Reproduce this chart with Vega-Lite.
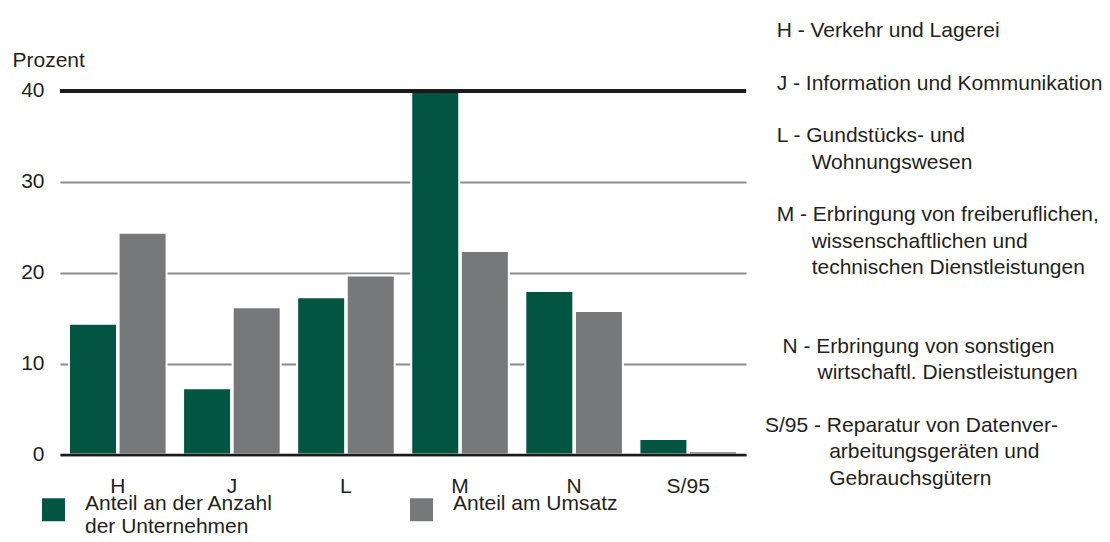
{
  "$schema": "https://vega.github.io/schema/vega-lite/v6.json",
  "padding": {"left": 12, "top": 20, "right": 0, "bottom": 0},
  "spacing": 17,
  "config": {
    "view": {"stroke": null},
    "font": "Liberation Sans",
    "text": {"font": "Liberation Sans"}
  },
  "hconcat": [
    {
      "width": 686,
      "height": 434.5,
      "data": {
        "values": [
          {"code": "H", "serie": "Anteil an der Anzahl der Unternehmen", "wert": 14.4},
          {"code": "H", "serie": "Anteil am Umsatz", "wert": 24.4},
          {"code": "J", "serie": "Anteil an der Anzahl der Unternehmen", "wert": 7.3},
          {"code": "J", "serie": "Anteil am Umsatz", "wert": 16.2},
          {"code": "L", "serie": "Anteil an der Anzahl der Unternehmen", "wert": 17.3},
          {"code": "L", "serie": "Anteil am Umsatz", "wert": 19.7},
          {"code": "M", "serie": "Anteil an der Anzahl der Unternehmen", "wert": 40.0},
          {"code": "M", "serie": "Anteil am Umsatz", "wert": 22.4},
          {"code": "N", "serie": "Anteil an der Anzahl der Unternehmen", "wert": 18.0},
          {"code": "N", "serie": "Anteil am Umsatz", "wert": 15.8},
          {"code": "S/95", "serie": "Anteil an der Anzahl der Unternehmen", "wert": 1.7},
          {"code": "S/95", "serie": "Anteil am Umsatz", "wert": 0.35}
        ]
      },
      "layer": [
        {
          "mark": {"type": "bar", "stroke": "white", "strokeWidth": 2},
          "encoding": {
            "x": {
              "field": "code",
              "type": "nominal",
              "sort": ["H", "J", "L", "M", "N", "S/95"],
              "scale": {"paddingInner": 0.1445, "paddingOuter": 0.0789},
              "axis": {
                "title": null,
                "labelAngle": 0,
                "labelFontSize": 21,
                "labelColor": "#231f20",
                "labelFont": "Liberation Sans",
                "labelPadding": 21,
                "ticks": false,
                "tickSize": 0,
                "domainColor": "#1a1a1a",
                "domainWidth": 2.5,
                "zindex": 1
              }
            },
            "xOffset": {
              "field": "serie",
              "type": "nominal",
              "sort": ["Anteil an der Anzahl der Unternehmen", "Anteil am Umsatz"],
              "scale": {"paddingInner": 0.032, "paddingOuter": 0}
            },
            "y": {
              "field": "wert",
              "type": "quantitative",
              "scale": {"domain": [0, 47.81], "nice": false, "zero": true},
              "axis": {
                "title": "Prozent",
                "titleAngle": 0,
                "titleAlign": "left",
                "titleBaseline": "alphabetic",
                "titleX": -48,
                "titleY": 46.7,
                "titleFontSize": 21,
                "titleFontWeight": "normal",
                "titleColor": "#231f20",
                "titleFont": "Liberation Sans",
                "values": [0, 10, 20, 30, 40],
                "labelFontSize": 21,
                "labelColor": "#231f20",
                "labelFont": "Liberation Sans",
                "labelPadding": 16,
                "ticks": false,
                "tickSize": 0,
                "domain": false,
                "grid": true,
                "gridColor": "#8c8c8c",
                "gridWidth": 1.8
              }
            },
            "color": {
              "field": "serie",
              "type": "nominal",
              "sort": ["Anteil an der Anzahl der Unternehmen", "Anteil am Umsatz"],
              "scale": {"range": ["#025540", "#777879"]},
              "legend": {
                "title": null,
                "orient": "none",
                "legendX": -18,
                "legendY": 478,
                "direction": "horizontal",
                "columns": 2,
                "columnPadding": 137,
                "padding": 0,
                "symbolType": "square",
                "symbolSize": 529,
                "symbolStrokeWidth": 0,
                "symbolOpacity": 1,
                "labelFontSize": 21,
                "labelFont": "Liberation Sans",
                "labelColor": "#231f20",
                "labelOffset": 20,
                "labelLimit": 400,
                "labelBaseline": "alphabetic",
                "labelExpr": "datum.label == 'Anteil an der Anzahl der Unternehmen' ? ['Anteil an der Anzahl', 'der Unternehmen'] : [datum.label, '\u200b']"
              }
            }
          }
        },
        {
          "mark": {"type": "rule", "color": "#1a1a1a", "strokeWidth": 2.5},
          "encoding": {"y": {"datum": 40}}
        }
      ]
    },
    {
      "width": 347,
      "height": 434.5,
      "data": {
        "values": [
          {"beschreibung": "\u200b\u00a0\u00a0H - Verkehr und Lagerei\n\u200b\n\u200b\u00a0\u00a0J - Information und Kommunikation\n\u200b\n\u200b\u00a0\u00a0L - Gundstücks- und\n\u200b\u00a0\u00a0\u00a0\u00a0\u00a0\u00a0\u00a0\u00a0Wohnungswesen\n\u200b\n\u200b\u00a0\u00a0M - Erbringung von freiberuflichen,\n\u200b\u00a0\u00a0\u00a0\u00a0\u00a0\u00a0\u00a0\u00a0wissenschaftlichen und\n\u200b\u00a0\u00a0\u00a0\u00a0\u00a0\u00a0\u00a0\u00a0technischen Dienstleistungen\n\u200b\n\u200b\n\u200b\u00a0\u00a0\u00a0N - Erbringung von sonstigen\n\u200b\u00a0\u00a0\u00a0\u00a0\u00a0\u00a0\u00a0\u00a0\u00a0wirtschaftl. Dienstleistungen\n\u200b\nS/95 - Reparatur von Datenver-\n\u200b\u00a0\u00a0\u00a0\u00a0\u00a0\u00a0\u00a0\u00a0\u00a0\u00a0\u00a0arbeitungsgeräten und\n\u200b\u00a0\u00a0\u00a0\u00a0\u00a0\u00a0\u00a0\u00a0\u00a0\u00a0\u00a0Gebrauchsgütern"}
        ]
      },
      "mark": {
        "type": "text",
        "align": "left",
        "baseline": "top",
        "fontSize": 21,
        "font": "Liberation Sans",
        "color": "#231f20",
        "lineHeight": 26.33,
        "lineBreak": "\n"
      },
      "encoding": {
        "text": {"field": "beschreibung", "type": "nominal"},
        "x": {"datum": 0, "type": "quantitative", "scale": {"domain": [0, 1]}, "axis": null},
        "y": {"datum": 1, "type": "quantitative", "scale": {"domain": [0, 1]}, "axis": null}
      }
    }
  ]
}
